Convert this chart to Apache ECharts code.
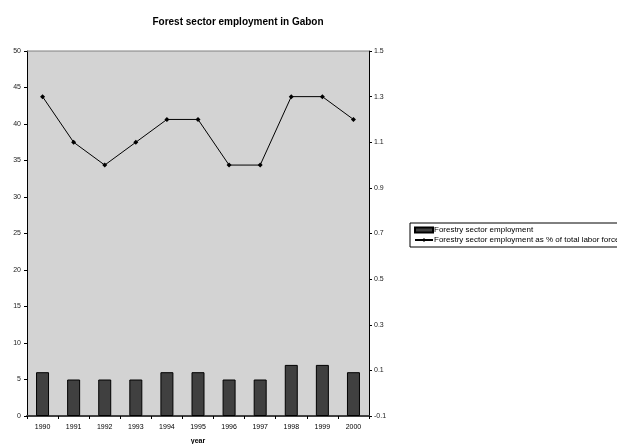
<!DOCTYPE html>
<html>
<head>
<meta charset="utf-8">
<script src="https://cdn.jsdelivr.net/npm/echarts@6/dist/echarts.min.js"></script>
<style>
  html, body { margin: 0; padding: 0; background: #fff; }
  #chart { width: 617px; height: 444px; }
</style>
</head>
<body>
<div id="chart"></div>
<script>
// Forest sector employment in Gabon, 1990-2000
const years = ['1990', '1991', '1992', '1993', '1994', '1995', '1996', '1997', '1998', '1999', '2000'];
const employment = [6, 5, 5, 5, 6, 6, 5, 5, 7, 7, 6];
const shareOfLaborForce = [1.3, 1.1, 1.0, 1.1, 1.2, 1.2, 1.0, 1.0, 1.3, 1.3, 1.2];
const rightTicks = [-0.1, 0.1, 0.3, 0.5, 0.7, 0.9, 1.1, 1.3, 1.5];

const font = 'Liberation Sans, Arial, sans-serif';
const chart = echarts.init(document.getElementById('chart'), null, { renderer: 'canvas' });

chart.setOption({
  animation: false,
  backgroundColor: '#ffffff',
  title: {
    text: 'Forest sector employment in Gabon',
    left: 233,
    textAlign: 'center',
    top: 12,
    textStyle: { fontFamily: font, fontSize: 10, fontWeight: 'bold', color: '#000' }
  },
  legend: {
    orient: 'vertical',
    left: 410,
    top: 223,
    padding: [3, 4, 3, 4],
    itemGap: 2,
    itemWidth: 18,
    itemHeight: 5,
    borderColor: '#000',
    borderWidth: 1,
    borderRadius: 0,
    textStyle: { fontFamily: font, fontSize: 8, color: '#000', padding: [0, 0, 0, -4] },
    data: [
      { name: 'Forestry sector employment', icon: 'rect' },
      { name: 'Forestry sector employment as % of total labor force' }
    ]
  },
  grid: {
    left: 27, right: 248, top: 51, bottom: 28,
    outerBoundsMode: 'none',
    containLabel: false,
    show: true,
    backgroundColor: '#d3d3d3',
    borderWidth: 0
  },
  xAxis: {
    type: 'category',
    data: years,
    name: 'year',
    nameLocation: 'middle',
    nameGap: 22,
    nameTextStyle: { fontFamily: font, fontSize: 7, fontWeight: 'bold', color: '#000' },
    axisLine: { lineStyle: { color: '#404040', width: 2 } },
    axisTick: { show: true, length: 3, lineStyle: { color: '#000' } },
    axisLabel: { fontFamily: font, fontSize: 7, color: '#000', margin: 8 }
  },
  yAxis: [
    {
      type: 'value',
      min: 0, max: 50, interval: 5,
      position: 'left',
      axisLine: { show: true, lineStyle: { color: '#000', width: 1 } },
      axisTick: { show: true, length: 3, lineStyle: { color: '#000' } },
      axisLabel: { fontFamily: font, fontSize: 7, color: '#222', margin: 6 },
      splitLine: { show: false }
    },
    {
      type: 'value',
      min: -0.1, max: 1.5,
      position: 'right',
      axisLine: { show: true, lineStyle: { color: '#000', width: 1 } },
      axisTick: { show: true, length: 3, customValues: rightTicks, lineStyle: { color: '#000' } },
      axisLabel: {
        fontFamily: font, fontSize: 7, color: '#222', margin: 5,
        customValues: rightTicks,
        formatter: v => (Math.round(v * 10) / 10).toString()
      },
      splitLine: { show: false }
    }
  ],
  series: [
    {
      name: 'Forestry sector employment',
      type: 'bar',
      yAxisIndex: 0,
      data: employment,
      barWidth: 13,
      itemStyle: { color: '#404040', borderColor: '#000', borderWidth: 1 }
    },
    {
      name: 'Forestry sector employment as % of total labor force',
      type: 'line',
      yAxisIndex: 1,
      data: shareOfLaborForce,
      symbol: 'diamond',
      symbolSize: 5,
      lineStyle: { color: '#000', width: 1 },
      itemStyle: { color: '#000' }
    }
  ]
});

// Thin grey rule along the top edge of the plot area
chart.setOption({
  graphic: [{
    type: 'line',
    shape: { x1: 27, y1: 51, x2: 369, y2: 51 },
    style: { stroke: '#808080', lineWidth: 1 },
    z: 10
  }]
});
</script>
</body>
</html>
